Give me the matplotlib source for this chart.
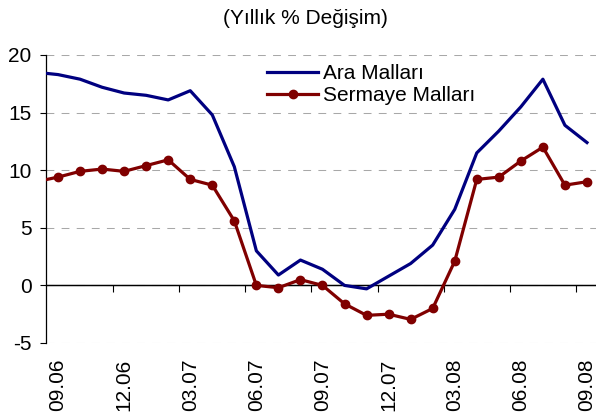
import matplotlib
matplotlib.use("Agg")
import matplotlib.pyplot as plt
import numpy as np

# Monthly data, 08.06 .. 09.08 (first point falls just left of the plot area)
months = ["08.06", "09.06", "10.06", "11.06", "12.06", "01.07", "02.07", "03.07",
          "04.07", "05.07", "06.07", "07.07", "08.07", "09.07", "10.07", "11.07",
          "12.07", "01.08", "02.08", "03.08", "04.08", "05.08", "06.08", "07.08",
          "08.08", "09.08"]
ara_mallari = [18.5, 18.3, 17.9, 17.2, 16.7, 16.5, 16.1, 16.9, 14.8, 10.3, 3.0, 0.9,
               2.2, 1.4, 0.0, -0.3, 0.8, 1.9, 3.5, 6.6, 11.5, 13.4, 15.5, 17.9,
               13.9, 12.4]
sermaye_mallari = [9.0, 9.4, 9.9, 10.1, 9.9, 10.4, 10.9, 9.2, 8.7, 5.6, 0.0, -0.2,
                   0.5, 0.0, -1.6, -2.6, -2.5, -2.95, -2.0, 2.1, 9.2, 9.4, 10.8, 12.0,
                   8.7, 9.0]
y_ticks = [-5, 0, 5, 10, 15, 20]

plt.rcParams['font.family'] = ['Liberation Sans', 'DejaVu Sans']
plt.rcParams['axes.unicode_minus'] = False

x = np.arange(len(months)) - 1  # 09.06 -> 0

fig = plt.figure(figsize=(5.96, 4.17), dpi=100)
ax = fig.add_axes([46 / 596, 1 - 343 / 417, 550 / 596, 288 / 417])

ax.plot(x, ara_mallari, color='#000080', lw=2.3, label='Ara Malları', zorder=3)
ax.plot(x, sermaye_mallari, color='#800000', lw=2.3, marker='o', ms=6,
        label='Sermaye Malları', zorder=3)

ax.set_xlim(-0.545, 24.41)
ax.set_ylim(-5, 20)

# y axis
ax.set_yticks(y_ticks)
ax.tick_params(axis='y', labelsize=15, length=4.5, width=0.8, pad=6)
ax.yaxis.grid(True, color='#a8a8a8', linestyle=(0, (7.5, 7)), linewidth=0.75)
ax.axhline(0, color='black', lw=0.9, zorder=2)

for s in ['top', 'right']:
    ax.spines[s].set_visible(False)
ax.spines['left'].set_linewidth(0.9)
ax.spines['bottom'].set_position(('data', 0))
ax.spines['bottom'].set_linewidth(0.9)

# tick marks between quarters on the zero line
ax.set_xticks(np.arange(2.5, 24, 3))
ax.tick_params(axis='x', length=5, width=0.8, labelbottom=False)

# quarter labels at the bottom
lab_idx = np.arange(0, 25, 3)
sec = ax.secondary_xaxis(0)
sec.set_xticks(lab_idx)
sec.set_xticklabels([months[i + 1] for i in lab_idx], rotation=90, fontsize=15)
sec.tick_params(length=0, pad=11)
sec.spines['bottom'].set_visible(False)

ax.legend(loc='upper left', bbox_to_anchor=(267 / 596, 1 - 64 / 417),
          bbox_transform=fig.transFigure, frameon=False, fontsize=15,
          handlelength=2.45, handletextpad=0.25, labelspacing=0.15,
          borderpad=0, borderaxespad=0)

fig.text(305 / 596, 1 - 18 / 417, '(Yıllık % Değişim)', ha='center', va='center',
         fontsize=15)

fig.savefig('out.png', dpi=100)
